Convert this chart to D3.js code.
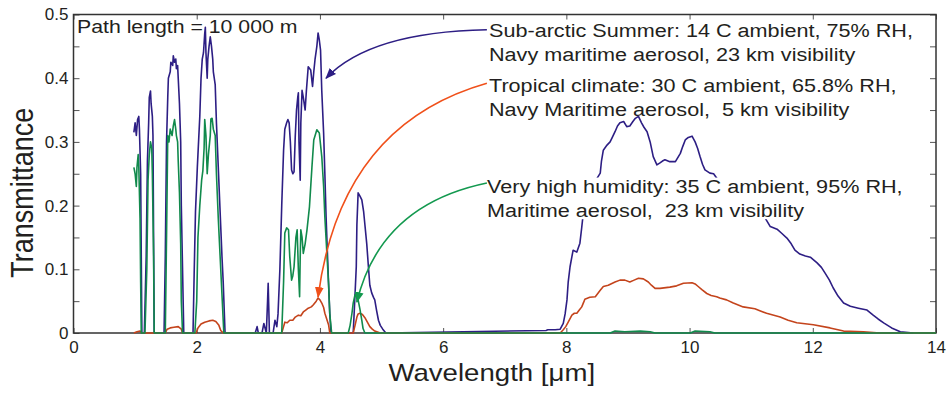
<!DOCTYPE html>
<html>
<head>
<meta charset="utf-8">
<script src="https://cdn.jsdelivr.net/npm/d3@7"></script>
<style>
  body { margin: 0; background: #fff; }
  svg { display: block; font-family: "Liberation Sans", Arial, sans-serif; }
  text { fill: #231f20; }
</style>
</head>
<body>
<svg id="chart" width="948" height="395"></svg>
<script>
// [wavelength µm, transmittance]
const subArctic = [
  [0.98,0.315],[1.00,0.33],[1.02,0.31],[1.04,0.335],[1.06,0.34],[1.07,0.32],[1.09,0.25],[1.10,0.12],[1.11,0],[1.15,0],
  [1.18,0.12],[1.20,0.27],[1.22,0.33],[1.23,0.37],[1.25,0.38],[1.26,0.36],[1.28,0.34],[1.29,0.31],[1.30,0.15],[1.31,0],
  [1.47,0],[1.49,0.12],[1.51,0.30],[1.53,0.37],[1.54,0.40],[1.57,0.41],[1.58,0.425],[1.61,0.42],[1.62,0.435],[1.64,0.425],
  [1.66,0.43],[1.67,0.415],[1.69,0.42],[1.70,0.40],[1.72,0.36],[1.74,0.30],[1.75,0.20],[1.77,0.10],[1.79,0],
  [1.94,0],[1.96,0.10],[1.98,0.19],[2.01,0.26],[2.02,0.28],[2.05,0.34],[2.07,0.40],[2.09,0.43],[2.11,0.44],[2.13,0.47],
  [2.14,0.48],[2.15,0.44],[2.17,0.40],[2.18,0.43],[2.20,0.45],[2.22,0.465],[2.24,0.45],[2.26,0.43],[2.27,0.41],[2.30,0.39],
  [2.32,0.33],[2.35,0.26],[2.38,0.19],[2.41,0.12],[2.43,0.08],[2.46,0],
  [2.95,0],[2.98,0.01],[3.00,0],[3.06,0],[3.09,0.015],[3.13,0],[3.15,0.05],[3.16,0.078],[3.18,0],[3.24,0],[3.27,0.02],
  [3.30,0.01],[3.32,0.03],[3.35,0.10],[3.38,0.20],[3.41,0.287],[3.43,0.32],[3.46,0.33],[3.48,0.335],[3.50,0.33],[3.52,0.30],
  [3.54,0.256],[3.56,0.25],[3.58,0.253],[3.60,0.31],[3.62,0.35],[3.64,0.37],[3.65,0.377],[3.66,0.30],[3.68,0.24],[3.69,0.33],
  [3.71,0.381],[3.73,0.37],[3.76,0.35],[3.78,0.38],[3.81,0.418],[3.85,0.413],[3.88,0.387],[3.90,0.41],[3.92,0.429],[3.95,0.45],
  [3.97,0.471],[3.99,0.46],[4.01,0.444],[4.03,0.38],[4.06,0.314],[4.08,0.25],[4.10,0.182],[4.12,0.13],[4.14,0.078],[4.16,0.03],
  [4.18,0],[4.54,0],[4.56,0.04],[4.59,0.104],[4.60,0.17],[4.62,0.22],[4.65,0.215],[4.68,0.209],[4.71,0.19],[4.73,0.17],
  [4.76,0.14],[4.79,0.10],[4.81,0.075],[4.84,0.063],[4.87,0.056],[4.89,0.052],[4.92,0.035],[4.95,0.02],[4.98,0.012],[5.02,0.006],
  [5.07,0],[7.67,0.004],[7.70,0.005],[7.82,0.005],[7.90,0.006],[7.95,0.015],[7.98,0.03],[8.01,0.052],[8.03,0.08],[8.06,0.104],
  [8.09,0.12],[8.11,0.13],[8.17,0.127],[8.22,0.141],[8.25,0.166],[8.28,0.193],[8.34,0.21],[8.42,0.225],[8.48,0.24],[8.55,0.251],
  [8.57,0.27],[8.60,0.287],[8.66,0.295],[8.71,0.30],[8.74,0.306],[8.79,0.316],[8.83,0.325],[8.87,0.33],[8.93,0.332],[8.98,0.324],
  [9.03,0.325],[9.08,0.332],[9.12,0.337],[9.17,0.34],[9.22,0.33],[9.26,0.323],[9.31,0.316],[9.36,0.30],[9.41,0.277],[9.47,0.264],
  [9.52,0.267],[9.56,0.27],[9.60,0.272],[9.68,0.269],[9.77,0.269],[9.85,0.282],[9.89,0.293],[9.93,0.303],[9.98,0.307],[10.04,0.309],
  [10.09,0.30],[10.13,0.29],[10.17,0.277],[10.21,0.265],[10.25,0.256],[10.33,0.251],[10.39,0.25],[10.50,0.235],[10.66,0.22],[10.82,0.205],
  [10.98,0.195],[11.11,0.186],[11.23,0.18],[11.31,0.167],[11.42,0.163],[11.49,0.157],[11.58,0.149],[11.65,0.14],[11.71,0.13],[11.79,0.124],
  [11.88,0.121],[11.96,0.119],[12.07,0.11],[12.14,0.103],[12.20,0.094],[12.27,0.083],[12.33,0.071],[12.41,0.058],[12.50,0.047],[12.61,0.042],
  [12.74,0.039],[12.88,0.036],[12.98,0.028],[13.06,0.022],[13.15,0.016],[13.28,0.008],[13.42,0.002],[13.63,0]
];

const tropical = [
  [0.98,0],[1.03,0.002],[1.08,0.003],[1.11,0],[1.49,0],[1.52,0.006],[1.57,0.008],[1.63,0.009],[1.70,0.01],[1.75,0.006],[1.77,0],
  [1.99,0],[2.02,0.008],[2.07,0.014],[2.13,0.017],[2.20,0.019],[2.26,0.02],[2.31,0.018],[2.36,0.012],[2.39,0.004],[2.43,0],
  [3.38,0],[3.41,0.01],[3.43,0.017],[3.47,0.016],[3.51,0.02],[3.56,0.02],[3.60,0.025],[3.65,0.028],[3.69,0.027],[3.73,0.033],
  [3.77,0.036],[3.81,0.039],[3.86,0.041],[3.89,0.044],[3.94,0.05],[3.97,0.055],[4.00,0.052],[4.03,0.047],[4.06,0.04],[4.08,0.031],
  [4.11,0.022],[4.14,0.013],[4.16,0],[4.54,0],[4.57,0.012],[4.60,0.025],[4.62,0.03],[4.65,0.031],[4.69,0.029],[4.73,0.024],
  [4.77,0.017],[4.81,0.01],[4.85,0.006],[4.89,0.003],[4.98,0],[7.90,0],[7.95,0.005],[7.99,0.01],[8.03,0.017],[8.09,0.028],
  [8.13,0.031],[8.17,0.031],[8.21,0.036],[8.25,0.041],[8.28,0.048],[8.30,0.053],[8.38,0.056],[8.47,0.057],[8.51,0.062],[8.55,0.067],
  [8.60,0.073],[8.68,0.075],[8.79,0.08],[8.87,0.083],[8.95,0.083],[9.03,0.08],[9.10,0.083],[9.17,0.086],[9.25,0.085],[9.33,0.08],
  [9.38,0.075],[9.44,0.07],[9.52,0.07],[9.68,0.072],[9.79,0.074],[9.90,0.078],[10.04,0.079],[10.09,0.077],[10.14,0.073],[10.20,0.068],
  [10.28,0.062],[10.35,0.059],[10.44,0.057],[10.49,0.055],[10.60,0.052],[10.71,0.047],[10.87,0.041],[11.06,0.038],[11.14,0.035],[11.25,0.031],
  [11.47,0.025],[11.60,0.02],[11.74,0.016],[12.01,0.013],[12.28,0.008],[12.50,0.003],[12.82,0.002],[13.09,0],[14.0,0]
];

const highHumidity = [
  [0.98,0.26],[1.00,0.25],[1.02,0.23],[1.03,0.26],[1.05,0.28],[1.06,0.26],[1.08,0.18],[1.09,0.08],[1.10,0],[1.16,0],
  [1.19,0.10],[1.21,0.24],[1.23,0.28],[1.25,0.30],[1.27,0.29],[1.28,0.25],[1.30,0.12],[1.31,0],[1.49,0],[1.51,0.15],
  [1.53,0.31],[1.55,0.30],[1.57,0.32],[1.60,0.31],[1.62,0.325],[1.64,0.335],[1.66,0.32],[1.67,0.31],[1.69,0.30],[1.70,0.27],
  [1.72,0.22],[1.74,0.14],[1.75,0.05],[1.77,0],[1.97,0],[2.00,0.05],[2.02,0.15],[2.05,0.20],[2.08,0.24],[2.10,0.255],
  [2.12,0.29],[2.13,0.335],[2.15,0.31],[2.17,0.25],[2.19,0.28],[2.22,0.31],[2.23,0.336],[2.25,0.337],[2.27,0.32],[2.30,0.31],
  [2.32,0.25],[2.35,0.18],[2.38,0.12],[2.41,0.06],[2.44,0],[3.38,0],[3.41,0.08],[3.43,0.157],[3.46,0.165],[3.49,0.162],
  [3.51,0.12],[3.54,0.083],[3.56,0.09],[3.58,0.104],[3.61,0.15],[3.63,0.162],[3.65,0.10],[3.67,0.057],[3.68,0.12],[3.69,0.162],
  [3.71,0.15],[3.73,0.125],[3.76,0.14],[3.79,0.162],[3.83,0.198],[3.87,0.26],[3.90,0.303],[3.95,0.319],[3.99,0.314],[4.03,0.277],
  [4.06,0.23],[4.08,0.182],[4.11,0.13],[4.14,0.078],[4.16,0.03],[4.19,0],[4.46,0],[4.49,0.012],[4.52,0.031],[4.54,0.047],
  [4.57,0.06],[4.60,0.057],[4.62,0.052],[4.65,0.037],[4.68,0.02],[4.70,0.007],[4.73,0],[8.71,0],[8.79,0.003],[8.95,0.002],
  [9.20,0.003],[9.36,0.002],[9.44,0],[10.01,0],[10.09,0.003],[10.33,0.002],[10.41,0],[14.0,0]
];

const xTicks = [0, 2, 4, 6, 8, 10, 12, 14];
const yTicks = [0, 0.05, 0.1, 0.15, 0.2, 0.25, 0.3, 0.35, 0.4, 0.45, 0.5];
const yLabelTicks = [0, 0.1, 0.2, 0.3, 0.4, 0.5];

const seriesColors = ['#2d1e84', '#c4441c', '#118a4c'];
const arrowColors = ['#2d1e84', '#f0501a', '#13994f'];
const legendLines = [
  ['Sub-arctic Summer: 14 C ambient, 75% RH,', 'Navy maritime aerosol, 23 km visibility'],
  ['Tropical climate: 30 C ambient, 65.8% RH,', 'Navy Maritime aerosol,  5 km visibility'],
  ['Very high humidity: 35 C ambient, 95% RH,', 'Maritime aerosol,  23 km visibility']
];
// arrow start / control / tip in data units
const arrowStart = [[6.71, 0.476], [6.71, 0.392], [6.71, 0.2355]];
const arrowCtrl = [[4.81, 0.4725], [4.33, 0.3265], [4.98, 0.201]];
const arrowTip = [[4.10, 0.40], [3.97, 0.0565], [4.60, 0.0487]];

const width = 948, height = 395;
const margin = { top: 14.5, right: 12, bottom: 62, left: 73.5 };
const stretch = 1.15; // glyphs in the original are a bit wide

const svg = d3.select('#chart');

const x = d3.scaleLinear().domain([0, 14]).range([margin.left, width - margin.right]);
const y = d3.scaleLinear().domain([0, 0.5]).range([height - margin.bottom, margin.top]);

// Axes
const gx = svg.append('g')
  .attr('transform', `translate(0,${y(0)})`)
  .call(d3.axisBottom(x).tickValues(xTicks).tickSizeInner(-5).tickSizeOuter(0).tickPadding(8).tickFormat(d3.format('d')));

const gy = svg.append('g')
  .attr('transform', `translate(${x(0)},0)`)
  .call(d3.axisLeft(y).tickValues(yTicks).tickSizeInner(-6).tickSizeOuter(0).tickPadding(5)
    .tickFormat(d => yLabelTicks.includes(d) ? (d === 0 ? '0' : d.toFixed(1)) : ''));

const gTop = svg.append('g')
  .attr('transform', `translate(0,${y(0.5)})`)
  .call(d3.axisTop(x).tickValues(xTicks).tickSizeInner(-5).tickSizeOuter(0).tickFormat(''));

const gRight = svg.append('g')
  .attr('transform', `translate(${x(14)},0)`)
  .call(d3.axisRight(y).tickValues(yTicks).tickSizeInner(-6).tickSizeOuter(0).tickFormat(''));

[gx, gy, gTop, gRight].forEach(g => {
  g.selectAll('.tick line').attr('stroke', '#555').attr('stroke-width', 1);
  g.select('.domain').remove();
  g.selectAll('text').style('font-size', '17px').attr('fill', '#231f20');
});

svg.append('rect')
  .attr('x', x(0)).attr('y', y(0.5))
  .attr('width', x(14) - x(0)).attr('height', y(0) - y(0.5))
  .attr('fill', 'none').attr('stroke', '#333').attr('stroke-width', 1.5);

// Curves
const line = d3.line().x(d => x(d[0])).y(d => y(d[1]));
[subArctic, tropical, highHumidity].forEach((data, i) => {
  svg.append('path')
    .datum(data)
    .attr('fill', 'none')
    .attr('stroke', seriesColors[i])
    .attr('stroke-width', 1.6)
    .attr('stroke-linejoin', 'round')
    .attr('d', line);
});

// Arrow heads
const defs = svg.append('defs');
arrowColors.forEach((c, i) => {
  defs.append('marker')
    .attr('id', 'head' + i)
    .attr('viewBox', '0 -4 10 8')
    .attr('refX', 9).attr('refY', 0)
    .attr('markerUnits', 'userSpaceOnUse')
    .attr('markerWidth', 11).attr('markerHeight', 9)
    .attr('orient', 'auto')
    .append('path').attr('d', 'M0,-4L10,0L0,4Z').attr('fill', c);
});

// Legend text blocks
const textX = [489, 489, 487];
const baselines = [[36.7, 60.5], [92.3, 115.7], [193.3, 216.7]];
legendLines.forEach((lines, i) => {
  const g = svg.append('g');
  lines.forEach((t, j) => {
    g.append('text')
      .attr('transform', `translate(${textX[i]},${baselines[i][j]}) scale(${stretch},1)`)
      .style('font-size', '18.8px')
      .style('white-space', 'pre')
      .text(t);
  });
  if (i === 2) {
    // the last block sits on a white box that hides the curve behind it
    const bb = g.node().getBBox();
    g.insert('rect', 'text')
      .attr('x', bb.x - 2).attr('y', bb.y + 1)
      .attr('width', bb.width + 4).attr('height', baselines[i][1] + 2.5 - bb.y - 1)
      .attr('fill', '#fff');
  }
});

// Arrows
arrowStart.forEach((s, i) => {
  const p = d3.path();
  p.moveTo(x(s[0]), y(s[1]));
  p.quadraticCurveTo(x(arrowCtrl[i][0]), y(arrowCtrl[i][1]), x(arrowTip[i][0]), y(arrowTip[i][1]));
  svg.append('path')
    .attr('d', p.toString())
    .attr('fill', 'none')
    .attr('stroke', arrowColors[i])
    .attr('stroke-width', 1.6)
    .attr('marker-end', `url(#head${i})`);
});

// Other text
svg.append('text')
  .attr('transform', `translate(77,33) scale(${stretch},1)`)
  .style('font-size', '18.5px')
  .text('Path length = 10 000 m');

svg.append('text')
  .attr('transform', `translate(${(x(0) + x(14)) / 2 - 13},381) scale(${stretch},1)`)
  .attr('text-anchor', 'middle')
  .style('font-size', '24px')
  .text('Wavelength [μm]');

svg.append('text')
  .attr('transform', `translate(33,${(y(0) + y(0.5)) / 2 + 19}) rotate(-90) scale(1,${stretch})`)
  .attr('text-anchor', 'middle')
  .style('font-size', '27px')
  .text('Transmittance');
</script>
</body>
</html>
